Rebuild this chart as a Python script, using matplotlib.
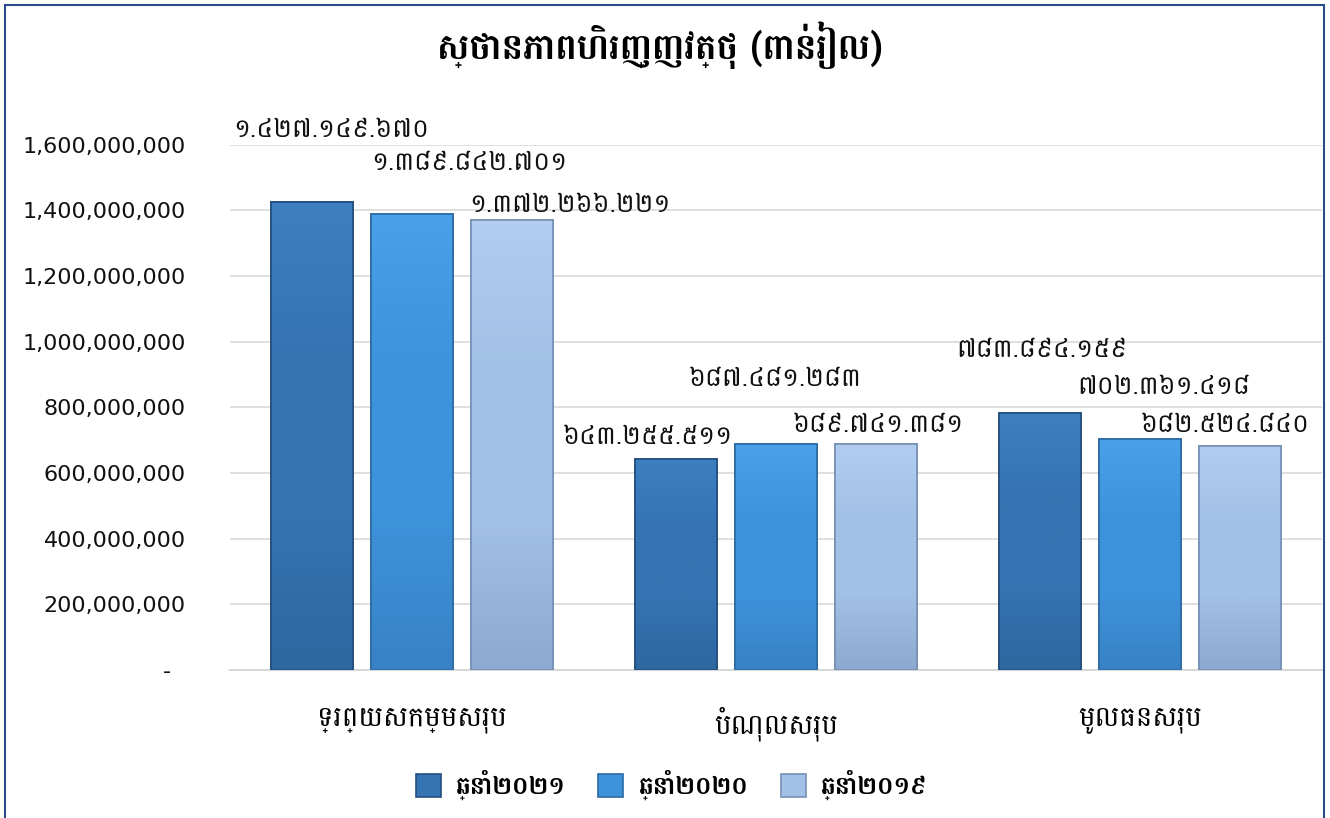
import matplotlib
matplotlib.use("Agg")
import matplotlib.pyplot as plt
import numpy as np
from matplotlib.patches import Rectangle
from matplotlib.colors import LinearSegmentedColormap
from matplotlib.ticker import FuncFormatter

title = "ស្ថានភាពហិរញ្ញវត្ថុ (ពាន់រៀល)"
categories = ["ទ្រព្យសកម្មសរុប", "បំណុលសរុប", "មូលធនសរុប"]
years = ["ឆ្នាំ២០២១", "ឆ្នាំ២០២០", "ឆ្នាំ២០១៩"]
y2021 = [1427149670, 643255511, 783894159]
y2020 = [1389842701, 687481283, 702361418]
y2019 = [1372266221, 689741381, 682524840]

colors = ["#3573b3", "#3e93da", "#a3c0e6"]
tops = ["#3d7fc0", "#4aa1e8", "#b2cdf0"]
bottoms = ["#2f67a0", "#3882c6", "#8ea9d0"]
edges = ["#224e7c", "#2b6aa3", "#7690b5"]
# label nudges in pixels (labels were moved by hand in the original)
nudges = [[(19, 72), (-28, 22), (2, 63)],
          [(57, 51), (-1, 66), (24, 53)],
          [(58, 15), (2, 19), (-15, 21)]]

khmer = ["Battambang", "DejaVu Sans"]
kdig = str.maketrans("0123456789", "០១២៣៤៥៦៧៨៩")


def kh_num(v):
    return f"{v:,}".replace(",", ".").translate(kdig)


fig = plt.figure(figsize=(13.3, 8.18), dpi=100)
ax = fig.add_axes([0.173, 0.181, 0.821, 0.642])

x = np.arange(len(categories))
w = 0.225
step = 0.275
series = [y2021, y2020, y2019]
grad = np.linspace(0, 1, 100).reshape(-1, 1)
for i, vals in enumerate(series):
    xs = x + (i - 1) * step
    bars = ax.bar(xs, vals, w, color=colors[i], edgecolor=edges[i], linewidth=1.2,
                  label=years[i], zorder=3)
    cmap = LinearSegmentedColormap.from_list("g%d" % i, [bottoms[i], colors[i], colors[i], tops[i]])
    for j, b in enumerate(bars):
        x0 = b.get_x()
        im = ax.imshow(grad, cmap=cmap, origin="lower", aspect="auto", zorder=3.5,
                       extent=(x0, x0 + b.get_width(), 0, b.get_height()))
        im.set_clip_path(b)
        ax.add_patch(Rectangle((x0, 0), b.get_width(), b.get_height(), fill=False,
                               edgecolor=edges[i], linewidth=1.2, zorder=4))
        dx, dy = nudges[i][j]
        ax.annotate(kh_num(vals[j]), (x0 + b.get_width() / 2, b.get_height()),
                    xytext=(dx, dy), textcoords="offset pixels", ha="center", va="center",
                    fontsize=18.5, family=khmer, color="#111111", annotation_clip=False,
                    zorder=6)

ax.set_ylim(0, 1600000000)
ax.set_xlim(-0.5, 2.5)
ax.set_yticks(np.arange(0, 1600000001, 200000000))
ax.yaxis.set_major_formatter(FuncFormatter(lambda v, p: "-  " if v == 0 else f"{int(v):,}"))
ax.grid(axis="y", color="#d9d9d9", linewidth=1.2, zorder=0)
for s in ["left", "right", "top"]:
    ax.spines[s].set_visible(False)
ax.spines["bottom"].set_color("#d9d9d9")
ax.spines["bottom"].set_linewidth(1.5)
ax.tick_params(axis="y", length=0, pad=32, labelsize=16)
ax.tick_params(axis="x", length=0, pad=26)
for t in ax.get_yticklabels():
    t.set_family("DejaVu Sans")
    t.set_color("#111111")
ax.set_xticks(x)
ax.set_xticklabels(categories, family=khmer, fontsize=20)

fig.text(0.496, 0.945, title, ha="center", va="center", fontsize=26, fontweight="bold", family=khmer)

leg = fig.legend(loc="center", bbox_to_anchor=(0.505, 0.04), ncol=3, frameon=False,
                 prop={"family": khmer, "size": 18, "weight": "bold"},
                 handlelength=1.0, handleheight=1.0, columnspacing=1.3, handletextpad=0.6)

fig.patches.append(Rectangle((0.0038, -0.01), 0.9917, 1.004, transform=fig.transFigure,
                             fill=False, edgecolor="#2b4a8a", linewidth=1.5))

fig.savefig("out.png", dpi=100)
